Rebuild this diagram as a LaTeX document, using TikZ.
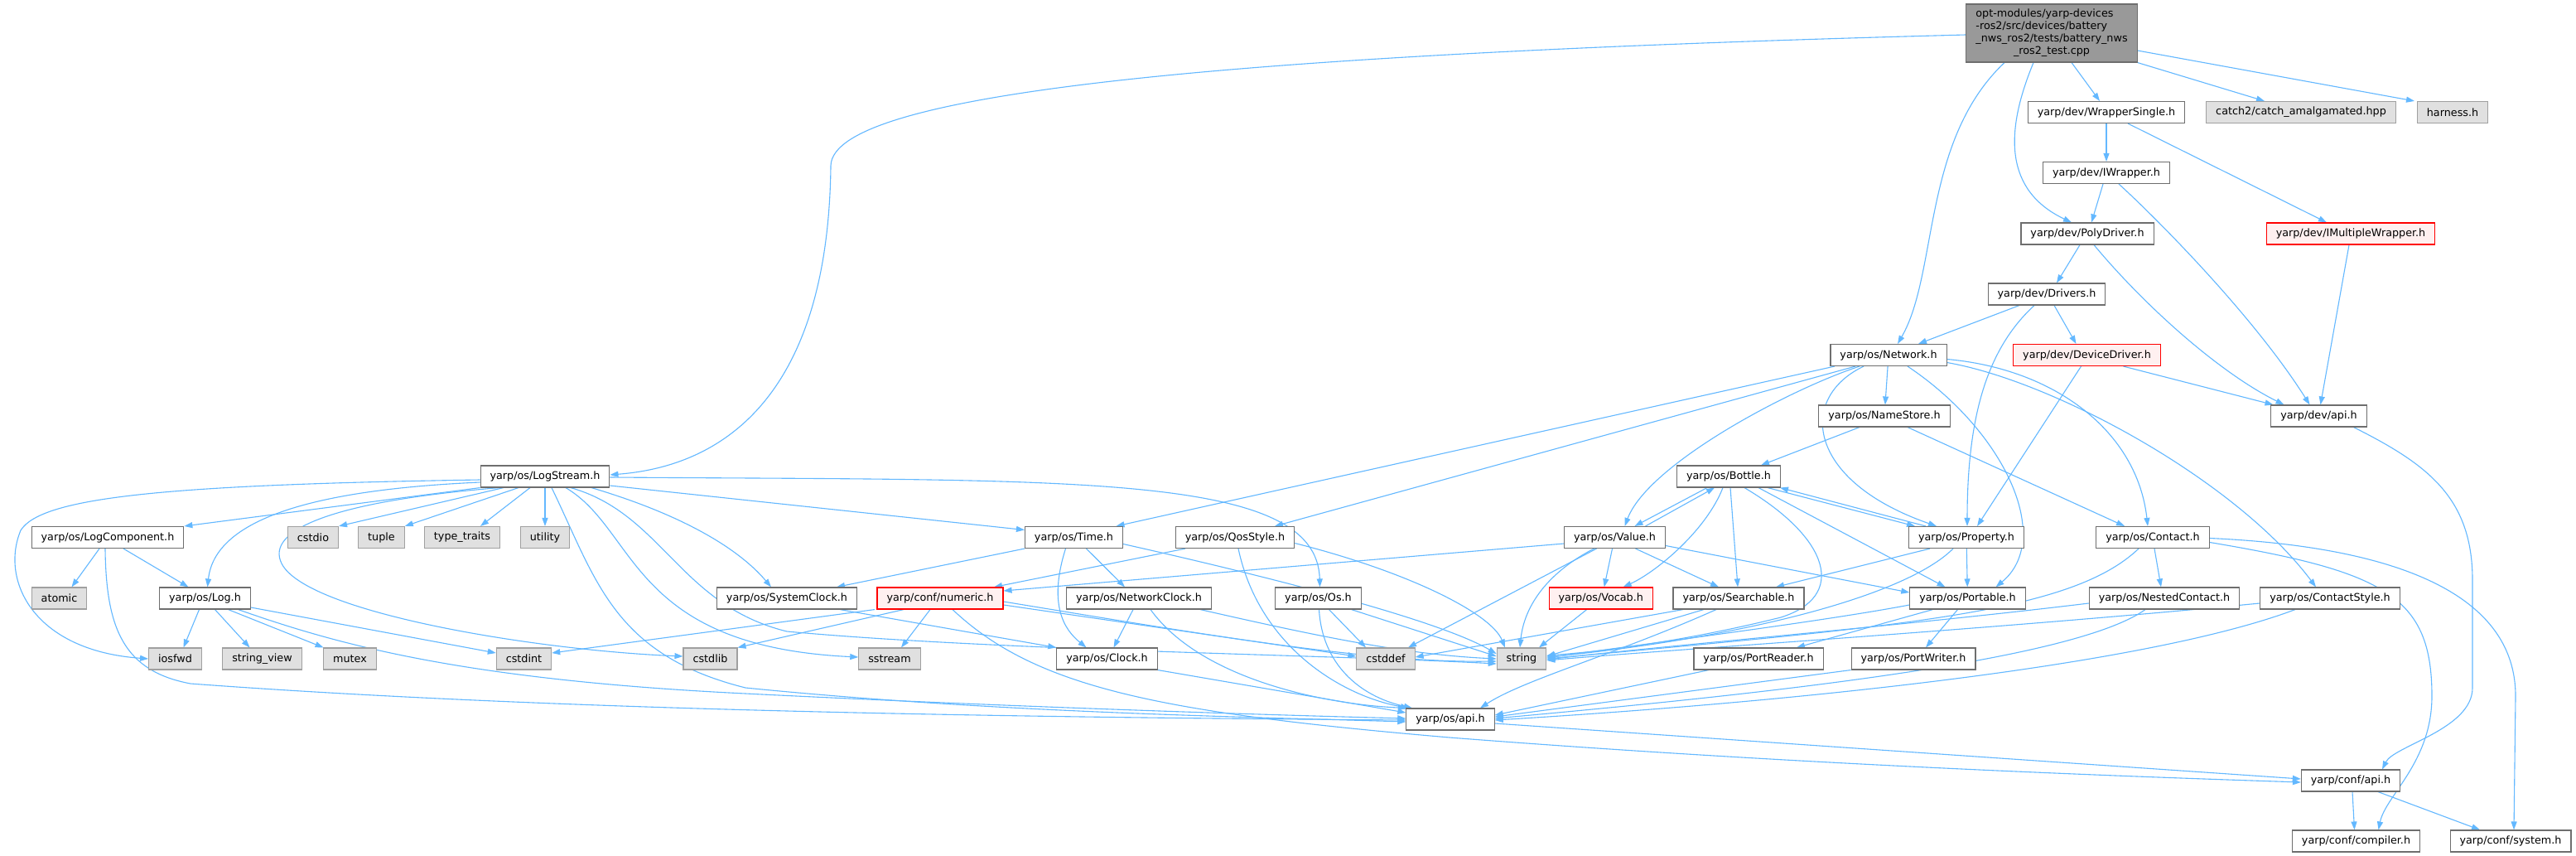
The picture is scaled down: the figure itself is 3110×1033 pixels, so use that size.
\documentclass[tikz,border=0pt]{standalone}
\usepackage{fontspec}
\setmainfont{DejaVu Sans}
\usetikzlibrary{arrows.meta}
\pgfdeclarelayer{bg}
\pgfdeclarelayer{paper}
\pgfsetlayers{paper,bg,main}
\definecolor{edgec}{RGB}{99,184,255}
\definecolor{bord}{RGB}{110,110,110}
\definecolor{extfill}{RGB}{224,224,224}
\definecolor{extbord}{RGB}{160,160,160}
\definecolor{redfill}{RGB}{255,240,240}
\definecolor{mainfill}{RGB}{153,153,153}
\begin{document}
\begin{tikzpicture}[x=1pt,y=-1pt,
  base/.style={rectangle,draw,line width=1.1pt,inner xsep=11.5pt,inner ysep=0pt,minimum height=26pt,font=\fontsize{12.75}{15}\selectfont},
  hdr/.style={base,draw=bord,fill=white},
  ext/.style={base,draw=extbord,fill=extfill},
  redn/.style={base,draw=red,fill=redfill},
  mainn/.style={base,draw=bord,fill=mainfill,inner ysep=5pt},
  edg/.style={draw=edgec,line width=1.1pt,-{Triangle[length=10pt,width=7pt]}}]
\useasboundingbox (0,0) rectangle (3110,1033);
\begin{pgfonlayer}{paper}
\fill[white] (0,0) rectangle (3110,1033);
\end{pgfonlayer}
% nodes
\node[mainn] (main) at (2477,40) {\begin{tabular}{@{}l@{}}opt-modules/yarp-devices\\-ros2/src/devices/battery\\\_nws\_ros2/tests/battery\_nws\\\multicolumn{1}{@{}c@{}}{\_ros2\_test.cpp}\end{tabular}};
\node[hdr] (wsingle) at (2543,135.5) {yarp/dev/WrapperSingle.h};
\node[ext] (catchh) at (2778,135.5) {catch2/catch\_amalgamated.hpp};
\node[ext] (harness) at (2961,135.5) {harness.h};
\node[hdr] (iwrap) at (2543,208.5) {yarp/dev/IWrapper.h};
\node[hdr] (poly) at (2520,282) {yarp/dev/PolyDriver.h};
\node[redn] (imulti) at (2838,282) {yarp/dev/IMultipleWrapper.h};
\node[hdr] (drivers) at (2471,355) {yarp/dev/Drivers.h};
\node[hdr] (network) at (2280,428.5) {yarp/os/Network.h};
\node[redn] (devdrv) at (2519.5,428.5) {yarp/dev/DeviceDriver.h};
\node[hdr] (namestore) at (2275,502) {yarp/os/NameStore.h};
\node[hdr] (devapi) at (2799.5,502) {yarp/dev/api.h};
\node[hdr] (logstream) at (658,575) {yarp/os/LogStream.h};
\node[hdr] (bottle) at (2087,575) {yarp/os/Bottle.h};
\node[hdr] (logcomp) at (130,648.5) {yarp/os/LogComponent.h};
\node[ext] (cstdio) at (378,648.5) {cstdio};
\node[ext] (tuple) at (460.5,648.5) {tuple};
\node[ext] (typetraits) at (558,648.5) {type\_traits};
\node[ext] (utility) at (658,648.5) {utility};
\node[hdr] (time) at (1296.5,648.5) {yarp/os/Time.h};
\node[hdr] (qos) at (1491,648.5) {yarp/os/QosStyle.h};
\node[hdr] (value) at (1949.5,648.5) {yarp/os/Value.h};
\node[hdr] (property) at (2374,648.5) {yarp/os/Property.h};
\node[hdr] (contact) at (2599,648.5) {yarp/os/Contact.h};
\node[ext] (atomic) at (71.5,722) {atomic};
\node[hdr] (log) at (247.5,722) {yarp/os/Log.h};
\node[hdr] (sysclock) at (950,722) {yarp/os/SystemClock.h};
\node[redn] (numeric) at (1135,722) {yarp/conf/numeric.h};
\node[hdr] (netclock) at (1375,722) {yarp/os/NetworkClock.h};
\node[hdr] (os) at (1591.5,722) {yarp/os/Os.h};
\node[redn] (vocab) at (1932.7,722) {yarp/os/Vocab.h};
\node[hdr] (searchable) at (2099,722) {yarp/os/Searchable.h};
\node[hdr] (portable) at (2375.5,722) {yarp/os/Portable.h};
\node[hdr] (nested) at (2613,722) {yarp/os/NestedContact.h};
\node[hdr] (cstyle) at (2813,722) {yarp/os/ContactStyle.h};
\node[ext] (iosfwd) at (211.5,795) {iosfwd};
\node[ext] (strview) at (316.5,795) {string\_view};
\node[ext] (mutex) at (422.5,795) {mutex};
\node[ext] (cstdint) at (632.5,795) {cstdint};
\node[ext] (cstdlib) at (857.5,795) {cstdlib};
\node[ext] (sstream) at (1074,795) {sstream};
\node[hdr] (clock) at (1336.5,795) {yarp/os/Clock.h};
\node[ext] (cstddef) at (1673,795) {cstddef};
\node[ext] (string) at (1837,795) {string};
\node[hdr] (preader) at (2123,795) {yarp/os/PortReader.h};
\node[hdr] (pwriter) at (2310,795) {yarp/os/PortWriter.h};
\node[hdr] (osapi) at (1751,868) {yarp/os/api.h};
\node[hdr] (confapi) at (2838,942) {yarp/conf/api.h};
\node[hdr] (compiler) at (2844.5,1015) {yarp/conf/compiler.h};
\node[hdr] (system) at (3031,1015) {yarp/conf/system.h};
% edges
\begin{pgfonlayer}{bg}
\draw[edg] ([yshift=-2pt]main.west) .. controls (1500,65) and (1005,110) .. (1003,200) .. controls (1000,470) and (880,562) .. ([yshift=2pt]logstream.east);
\draw[edg] ([xshift=-57pt]main.south) .. controls (2320,170) and (2340,330) .. ([xshift=11pt]network.north);
\draw[edg] ([xshift=-22pt]main.south) .. controls (2420,160) and (2420,230) .. ([xshift=-19pt]poly.north);
\draw[edg] ([xshift=24pt]main.south) -- ([xshift=-8pt]wsingle.north);
\draw[edg] (main.south east) -- ([xshift=-44pt]catchh.north);
\draw[edg] ([yshift=-21pt]main.east) -- ([xshift=-46pt]harness.north);
\draw[edg] (wsingle) -- (iwrap);
\draw[edg] ([xshift=26pt]wsingle.south) -- ([xshift=-29pt]imulti.north);
\draw[edg] ([xshift=-4pt]iwrap.south) -- ([xshift=5pt]poly.north);
\draw[edg] ([xshift=15pt]iwrap.south) .. controls (2600,260) and (2720,380) .. ([xshift=-11pt]devapi.north);
\draw[edg] ([xshift=-2pt]imulti.south) -- ([xshift=2pt]devapi.north);
\draw[edg] ([xshift=-9pt]poly.south) -- ([xshift=12pt]drivers.north);
\draw[edg] ([xshift=8pt]poly.south) .. controls (2590,370) and (2680,450) .. ([xshift=-42pt]devapi.north);
\draw[edg] ([xshift=-33pt]drivers.south) -- ([xshift=36pt]network.north);
\draw[edg] ([xshift=9pt]drivers.south) -- ([xshift=-13pt]devdrv.north);
\draw[edg] ([xshift=-15pt]drivers.south) .. controls (2400,420) and (2375,500) .. ([xshift=1pt]property.north);
\draw[edg] ([xshift=44pt]devdrv.south) -- ([xshift=-55pt]devapi.north);
\draw[edg] ([xshift=-7pt]devdrv.south) -- ([xshift=13pt]property.north);
\draw[edg] ([xshift=42pt]devapi.south) .. controls (2930,560) and (2985,600) .. (2985,700) -- (2985,830) .. controls (2985,880) and (2890,900) .. ([xshift=38pt]confapi.north);
% Network
\draw[edg] ([xshift=-65pt]network.south) -- ([xshift=51pt]time.north);
\draw[edg] ([xshift=-40pt]network.south) -- ([xshift=48pt]qos.north);
\draw[edg] ([xshift=-35pt]network.south) .. controls (2160,470) and (1990,560) .. ([xshift=12pt]value.north);
\draw[edg] (network) -- (namestore);
\draw[edg] ([xshift=-30pt]network.south) .. controls (2170,480) and (2180,580) .. ([xshift=-36pt]property.north);
\draw[edg] ([xshift=23pt]network.south) .. controls (2420,520) and (2480,650) .. ([xshift=34pt]portable.north);
\draw[edg] ([yshift=-5pt]network.east) .. controls (2480,445) and (2580,520) .. ([xshift=-6pt]contact.north);
\draw[edg] ([yshift=-9pt]network.east) .. controls (2480,460) and (2700,580) .. ([xshift=-17pt]cstyle.north);
\draw[edg] ([xshift=-30pt]namestore.south) -- ([xshift=39pt]bottle.north);
\draw[edg] ([xshift=28pt]namestore.south) -- ([xshift=-34pt]contact.north);
% Bottle
\draw[edg] ([xshift=-26pt]bottle.south) -- ([xshift=24pt]value.north);
\draw[edg] ([xshift=37pt]value.north) -- ([xshift=-17pt]bottle.south);
\draw[edg] ([xshift=-7pt]bottle.south) .. controls (2060,640) and (2000,690) .. ([xshift=27pt]vocab.north);
\draw[edg] ([xshift=2pt]bottle.south) -- ([xshift=-1pt]searchable.north);
\draw[edg] ([xshift=19pt]bottle.south) .. controls (2210,650) and (2230,720) .. (2150,745) .. controls (2050,770) and (1950,785) .. ([yshift=4pt]string.east);
\draw[edg] ([xshift=36pt]bottle.south) -- ([xshift=-27pt]portable.north);
\draw[edg] ([xshift=47pt]bottle.south) -- ([xshift=-62pt]property.north);
\draw[edg] ([xshift=-49pt]property.north) -- ([xshift=62pt]bottle.south);
% Value
\draw[edg] ([yshift=-7.5pt]value.west) -- ([yshift=9pt]numeric.east);
\draw[edg] ([xshift=-3pt]value.south) -- ([xshift=4pt]vocab.north);
\draw[edg] ([xshift=25pt]value.south) -- ([xshift=-24pt]searchable.north);
\draw[edg] ([yshift=-10pt]value.east) -- ([yshift=7pt]portable.west);
\draw[edg] ([xshift=-25pt]value.south) .. controls (1870,690) and (1840,730) .. ([xshift=-2pt]string.north);
\draw[edg] ([xshift=-22pt]value.south) -- ([xshift=27pt]cstddef.north);
% Property
\draw[edg] ([xshift=-44pt]property.south) -- ([xshift=45pt]searchable.north);
\draw[edg] (property) -- (portable);
\draw[edg] ([xshift=-16pt]property.south) .. controls (2300,720) and (2100,770) .. ([yshift=2pt]string.east);
% Searchable
\draw[edg] ([xshift=-42pt]searchable.south) -- ([yshift=3pt]string.east);
\draw[edg] ([xshift=-67pt]searchable.south) -- ([yshift=2pt]cstddef.east);
\draw[edg] ([xshift=-27pt]searchable.south) .. controls (1950,790) and (1840,820) .. ([xshift=36pt]osapi.north);
% Portable
\draw[edg] ([xshift=-42pt]portable.south) -- ([xshift=46pt]preader.north);
\draw[edg] ([xshift=-12pt]portable.south) -- ([xshift=15pt]pwriter.north);
\draw[edg] ([yshift=-8pt]portable.west) .. controls (2200,750) and (2000,775) .. ([yshift=1pt]string.east);
% Contact
\draw[edg] ([xshift=2pt]contact.south) -- ([xshift=-4pt]nested.north);
\draw[edg] ([xshift=-17pt]contact.south) .. controls (2500,740) and (2300,755) .. (string.east);
\draw[edg] ([yshift=-6pt]contact.east) .. controls (2880,690) and (2936,720) .. (2936,840) .. controls (2936,920) and (2880,960) .. ([xshift=27pt]compiler.north);
\draw[edg] ([yshift=-1pt]contact.east) .. controls (2900,660) and (3037,720) .. (3037,840) -- ([xshift=4pt]system.north);
\draw[edg] ([yshift=-6pt]nested.west) .. controls (2300,755) and (2000,780) .. ([yshift=-1pt]string.east);
\draw[edg] ([xshift=-23pt]nested.south) .. controls (2500,800) and (2100,840) .. ([yshift=1pt]osapi.east);
\draw[edg] ([yshift=-6pt]cstyle.west) .. controls (2400,760) and (2000,785) .. ([yshift=-2pt]string.east);
\draw[edg] ([xshift=-42pt]cstyle.south) .. controls (2600,800) and (2200,845) .. ([yshift=-1pt]osapi.east);
\draw[edg] ([xshift=-60pt]preader.south) -- ([yshift=5pt]osapi.east);
\draw[edg] (pwriter.south west) -- ([yshift=3pt]osapi.east);
\draw[edg] ([xshift=-17pt]vocab.south) -- ([xshift=21pt]string.north);
% Time
\draw[edg] ([yshift=-11pt]logstream.east) -- ([yshift=9pt]time.west);
\draw[edg] (time.south west) -- ([xshift=60pt]sysclock.north);
\draw[edg] ([xshift=15pt]time.south) -- ([xshift=-17pt]netclock.north);
\draw[edg] ([xshift=-10pt]time.south) .. controls (1265,730) and (1285,760) .. ([xshift=-25pt]clock.north);
\draw[edg] ([yshift=-8pt]time.east) .. controls (1550,700) and (1740,750) .. ([yshift=6pt]string.west);
% QosStyle
\draw[edg] ([xshift=-60pt]qos.south) -- ([xshift=65pt]numeric.north);
\draw[edg] ([yshift=-7pt]qos.east) .. controls (1700,690) and (1800,740) .. ([xshift=-20pt]string.north);
\draw[edg] ([xshift=4pt]qos.south) .. controls (1520,780) and (1620,840) .. ([xshift=-50pt]osapi.north);
% Os
\draw[edg] ([yshift=-1pt]logstream.east) .. controls (1300,580) and (1590,570) .. ([xshift=2pt]os.north);
\draw[edg] ([xshift=13pt]os.south) -- ([xshift=-24pt]cstddef.north);
\draw[edg] ([xshift=40pt]os.south) -- ([yshift=3pt]string.west);
\draw[edg] ([xshift=1pt]os.south) .. controls (1596,800) and (1640,840) .. ([xshift=-46pt]osapi.north);
% NetworkClock
\draw[edg] ([xshift=-7pt]netclock.south) -- ([xshift=8pt]clock.north);
\draw[edg] ([xshift=74pt]netclock.south) .. controls (1600,770) and (1700,790) .. (string.west);
\draw[edg] ([xshift=14pt]netclock.south) .. controls (1450,820) and (1600,850) .. ([xshift=-53pt]osapi.north);
\draw[edg] (clock.south east) -- ([yshift=8pt]osapi.west);
\draw[edg] ([xshift=64pt]sysclock.south) -- (clock.north west);
% numeric
\draw[edg] ([xshift=-79pt]numeric.south) -- ([yshift=7pt]cstdint.east);
\draw[edg] ([xshift=-44pt]numeric.south) -- (cstdlib.north east);
\draw[edg] ([xshift=-12pt]numeric.south) -- ([xshift=14pt]sstream.north);
\draw[edg] ([yshift=-8pt]numeric.east) -- ([yshift=3pt]cstddef.west);
\draw[edg] ([yshift=-4pt]numeric.east) .. controls (1450,765) and (1650,800) .. ([yshift=-3pt]string.west);
\draw[edg] ([xshift=15pt]numeric.south) .. controls (1250,830) and (1400,860) .. (1750,890) .. controls (2200,925) and (2600,938) .. ([yshift=-2pt]confapi.west);
% LogStream
\draw[edg] (logstream.south west) -- (logcomp.north east);
\draw[edg] ([yshift=-4pt]logstream.west) .. controls (200,585) and (50,600) .. (25,640) .. controls (0,700) and (40,785) .. (iosfwd.west);
\draw[edg] ([yshift=-7pt]logstream.west) .. controls (400,590) and (260,620) .. ([xshift=3pt]log.north);
\draw[edg] ([xshift=-55pt]logstream.south) .. controls (400,605) and (320,640) .. (340,680) .. controls (370,740) and (650,785) .. ([yshift=3pt]cstdlib.west);
\draw[edg] ([xshift=-50pt]logstream.south) -- (cstdio.north east);
\draw[edg] ([xshift=-32pt]logstream.south) -- (tuple.north east);
\draw[edg] ([xshift=-18pt]logstream.south) -- ([xshift=22pt]typetraits.north);
\draw[edg] (logstream) -- (utility);
\draw[edg] ([xshift=8pt]logstream.south) .. controls (720,700) and (740,790) .. (900,830) .. controls (1200,860) and (1500,865) .. ([yshift=-3pt]osapi.west);
\draw[edg] ([xshift=25pt]logstream.south) .. controls (770,640) and (760,780) .. ([yshift=2pt]sstream.west);
\draw[edg] ([xshift=31pt]logstream.south) .. controls (800,620) and (820,730) .. (950,762) .. controls (1200,785) and (1600,790) .. ([yshift=-6pt]string.west);
\draw[edg] ([xshift=56pt]logstream.south) .. controls (820,620) and (890,660) .. ([xshift=-19pt]sysclock.north);
% LogComponent, Log
\draw[edg] ([xshift=-10pt]logcomp.south) -- ([xshift=15pt]atomic.north);
\draw[edg] ([xshift=19pt]logcomp.south) -- ([xshift=-20pt]log.north);
\draw[edg] ([xshift=-3pt]logcomp.south) .. controls (128,760) and (150,810) .. (230,825) .. controls (700,860) and (1300,866) .. ([yshift=-1pt]osapi.west);
\draw[edg] ([xshift=-7pt]log.south) -- ([xshift=10pt]iosfwd.north);
\draw[edg] ([xshift=12pt]log.south) -- ([xshift=-15pt]strview.north);
\draw[edg] ([xshift=28pt]log.south) -- ([xshift=-32pt]mutex.north);
\draw[edg] ([yshift=-11pt]log.east) -- ([yshift=7pt]cstdint.west);
\draw[edg] ([xshift=40pt]log.south) .. controls (400,775) and (550,820) .. (900,837) .. controls (1200,852) and (1500,862) .. ([yshift=1pt]osapi.west);
% api
\draw[edg] ([yshift=-5pt]osapi.east) -- ([yshift=2pt]confapi.west);
\draw[edg] ([xshift=2pt]confapi.south) -- ([xshift=-2pt]compiler.north);
\draw[edg] ([xshift=33pt]confapi.south) -- ([xshift=-37pt]system.north);
\end{pgfonlayer}
\end{tikzpicture}
\end{document}
